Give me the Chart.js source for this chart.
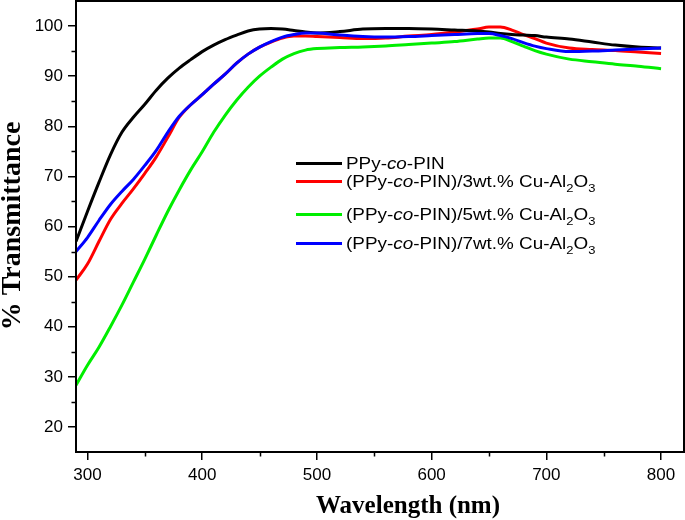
<!DOCTYPE html>
<html>
<head>
<meta charset="utf-8">
<script src="https://cdn.jsdelivr.net/npm/chart.js@4"></script>
<style>
  body { margin: 0; background: #fff; }
</style>
</head>
<body>
<canvas id="chart" width="685" height="520"></canvas>
<script>
// wavelength (nm)
const wavelengths = [290,300,310,320,330,340,350,360,370,380,390,400,410,420,430,440,450,460,470,480,490,500,520,540,560,580,600,620,640,650,660,670,680,690,700,720,740,760,780,800];

// % transmittance for each sample
const pristine = [57,63,68.8,74.3,78.8,81.8,84.4,87.2,89.6,91.6,93.3,94.9,96.2,97.3,98.2,99,99.4,99.5,99.4,99.1,98.8,98.6,98.9,99.4,99.5,99.5,99.4,99.2,99,98.8,98.5,98.3,98.2,98.1,97.8,97.4,96.8,96.2,95.8,95.6];
const wt3 = [49.3,52.5,57,61.4,64.6,67.5,70.6,73.9,77.8,81.8,84.3,86.3,88.4,90.4,92.6,94.4,95.8,96.8,97.6,98,98,97.9,97.7,97.5,97.6,98,98.3,98.8,99.4,99.8,99.8,99.2,98.3,97.5,96.6,95.6,95.3,95.1,94.8,94.5];
const wt5 = [28.3,32.3,35.9,40,44.3,48.9,53.5,58.3,63,67.3,71.3,74.9,78.8,82.2,85.2,87.8,90,91.8,93.4,94.5,95.2,95.5,95.7,95.8,96,96.3,96.6,96.9,97.4,97.6,97.6,96.9,96,95.1,94.4,93.4,92.9,92.4,92,91.5];
const wt7 = [55,57.8,61.2,64.4,67,69.4,72.2,75.2,78.8,82,84.3,86.3,88.4,90.4,92.6,94.4,95.8,96.9,97.8,98.3,98.6,98.6,98.2,97.9,97.8,97.9,98.1,98.3,98.5,98.5,98.1,97.5,96.7,96,95.5,94.9,95,95.2,95.4,95.6];

const xTickLabels = [300,400,500,600,700,800];
const xMinorTicks = [350,450,550,650,750];
const yTickLabels = [20,30,40,50,60,70,80,90,100];
const yMinorTicks = [25,35,45,55,65,75,85,95];

const toPoints = arr => arr.map((v, i) => ({x: wavelengths[i], y: v}));

const legendItems = [
  {color: '#000000', parts: [['PPy-'], ['co', 'i'], ['-PIN']]},
  {color: '#ff0000', parts: [['(PPy-'], ['co', 'i'], ['-PIN)/3wt.% Cu-Al'], ['2', 's'], ['O'], ['3', 's']]},
  {color: '#00ee00', parts: [['(PPy-'], ['co', 'i'], ['-PIN)/5wt.% Cu-Al'], ['2', 's'], ['O'], ['3', 's']]},
  {color: '#0000ff', parts: [['(PPy-'], ['co', 'i'], ['-PIN)/7wt.% Cu-Al'], ['2', 's'], ['O'], ['3', 's']]}
];
const legendBaselines = [169, 187, 220, 249];

const decor = {
  id: 'decor',
  afterDraw(chart) {
    const {ctx, chartArea: a, scales: {x, y}} = chart;
    ctx.save();
    ctx.strokeStyle = '#000';
    ctx.lineWidth = 2;
    ctx.strokeRect(a.left, a.top, a.right - a.left, a.bottom - a.top);

    // minor ticks
    ctx.lineWidth = 1.5;
    ctx.beginPath();
    xMinorTicks.forEach(v => {
      const px = Math.round(x.getPixelForValue(v)) + 0.5;
      ctx.moveTo(px, a.bottom);
      ctx.lineTo(px, a.bottom + 4.5);
    });
    yMinorTicks.forEach(v => {
      const py = Math.round(y.getPixelForValue(v)) + 0.5;
      ctx.moveTo(a.left, py);
      ctx.lineTo(a.left - 4.5, py);
    });
    ctx.stroke();

    // axis titles
    ctx.fillStyle = '#000';
    ctx.textAlign = 'center';
    ctx.textBaseline = 'alphabetic';
    ctx.font = 'bold 25px "Liberation Serif", "Times New Roman", serif';
    ctx.fillText('Wavelength (nm)', 408, 513);
    ctx.save();
    ctx.translate(20, 226);
    ctx.rotate(-Math.PI / 2);
    ctx.font = 'bold 28px "Liberation Serif", "Times New Roman", serif';
    ctx.fillText('% Transmittance', 0, 0);
    ctx.restore();

    // legend (text is a bit wide in the original)
    ctx.textAlign = 'left';
    legendItems.forEach((item, k) => {
      const base = legendBaselines[k];
      const ly = base - 5.5;
      ctx.strokeStyle = item.color;
      ctx.lineWidth = 3;
      ctx.beginPath();
      ctx.moveTo(296, ly);
      ctx.lineTo(342, ly);
      ctx.stroke();
      ctx.save();
      ctx.translate(346, 0);
      ctx.scale(1.18, 1);
      let tx = 0;
      item.parts.forEach(([t, style]) => {
        if (style === 's') {
          ctx.font = '11px "Liberation Sans", Arial, sans-serif';
          ctx.fillText(t, tx, base + 5);
        } else {
          ctx.font = (style === 'i' ? 'italic ' : '') + '16px "Liberation Sans", Arial, sans-serif';
          ctx.fillText(t, tx, base);
        }
        tx += ctx.measureText(t).width;
      });
      ctx.restore();
    });
    ctx.restore();
  }
};

const tickFont = {family: '"Liberation Sans", Arial, sans-serif', size: 17};
const noPad = s => { s.paddingTop = 0; s.paddingBottom = 0; s.paddingLeft = 0; s.paddingRight = 0; };

new Chart(document.getElementById('chart'), {
  type: 'line',
  data: {
    datasets: [
      {label: 'PPy-co-PIN', data: toPoints(pristine), borderColor: '#000000', order: 1},
      {label: '(PPy-co-PIN)/3wt.% Cu-Al2O3', data: toPoints(wt3), borderColor: '#ff0000', order: 2},
      {label: '(PPy-co-PIN)/5wt.% Cu-Al2O3', data: toPoints(wt5), borderColor: '#00ee00', order: 3},
      {label: '(PPy-co-PIN)/7wt.% Cu-Al2O3', data: toPoints(wt7), borderColor: '#0000ff', order: 0}
    ]
  },
  options: {
    responsive: false,
    animation: false,
    layout: {padding: {top: 1, right: 1, left: 0, bottom: 0}},
    elements: {
      line: {borderWidth: 3, cubicInterpolationMode: 'monotone', fill: false},
      point: {radius: 0}
    },
    plugins: {legend: {display: false}, tooltip: {enabled: false}},
    scales: {
      x: {
        type: 'linear',
        min: 290,
        max: 820,
        afterBuildTicks: s => { s.ticks = xTickLabels.map(v => ({value: v})); },
        afterFit: s => { s.height = 68; noPad(s); },
        grid: {display: true, drawOnChartArea: false, drawTicks: true, tickLength: 8, color: '#000', lineWidth: 1.5},
        border: {display: false},
        ticks: {color: '#000', font: tickFont, padding: 5, maxRotation: 0}
      },
      y: {
        min: 15,
        max: 105,
        afterBuildTicks: s => { s.ticks = yTickLabels.map(v => ({value: v})); },
        afterFit: s => { s.width = 76; noPad(s); },
        grid: {display: true, drawOnChartArea: false, drawTicks: true, tickLength: 8, color: '#000', lineWidth: 1.5},
        border: {display: false},
        ticks: {color: '#000', font: tickFont, padding: 5}
      }
    }
  },
  plugins: [decor]
});
</script>
</body>
</html>
